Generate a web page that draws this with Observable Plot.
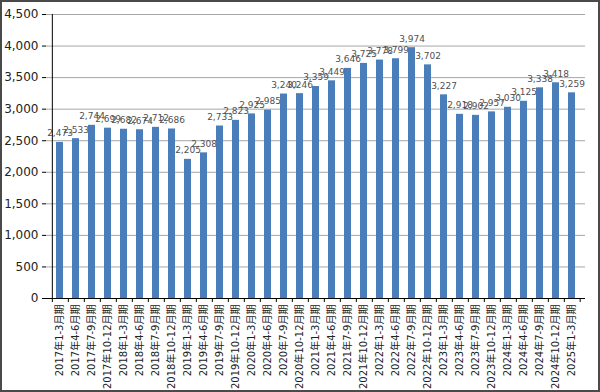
<!DOCTYPE html>
<html><head><meta charset="utf-8">
<script src="https://cdn.jsdelivr.net/npm/d3@7"></script>
<script src="https://cdn.jsdelivr.net/npm/@observablehq/plot@0.6"></script>
<style>
html,body{margin:0;padding:0;background:#fff;}
#wrap{position:relative;width:600px;height:392px;overflow:hidden;}
#frame{position:absolute;left:0;top:0;width:600px;height:392px;box-sizing:border-box;border:2px solid #4a4a4a;pointer-events:none;}
svg{font-family:"DejaVu Sans","Noto Sans CJK JP",sans-serif;}
</style></head>
<body><div id="wrap"><div id="chart"></div><div id="frame"></div></div>
<script>
const years = ["2017","2017","2017","2017","2018","2018","2018","2018","2019","2019","2019","2019","2020","2020","2020","2020","2021","2021","2021","2021","2022","2022","2022","2022","2023","2023","2023","2023","2024","2024","2024","2024","2025"];
const quarters = ["1-3","4-6","7-9","10-12","1-3","4-6","7-9","10-12","1-3","4-6","7-9","10-12","1-3","4-6","7-9","10-12","1-3","4-6","7-9","10-12","1-3","4-6","7-9","10-12","1-3","4-6","7-9","10-12","1-3","4-6","7-9","10-12","1-3"];
const values = [2473,2533,2744,2699,2682,2674,2712,2686,2205,2308,2733,2823,2925,2985,3240,3246,3359,3449,3646,3725,3778,3799,3974,3702,3227,2918,2902,2957,3030,3125,3338,3418,3259];
const yTicks = [0,500,1000,1500,2000,2500,3000,3500,4000,4500];

const categories = years.map((y,i)=> y + "年" + quarters[i] + "月期");
const data = categories.map((c,i)=>({cat:c, v:values[i]}));

const W = 600, H = 392, mL = 46, mR = 15, mT = 14, mB = 94;
const step = (W - mL - mR) / categories.length;
const tickLenData = 4 * 4500 / (H - mT - mB);

const chart = Plot.plot({
  width: W, height: H,
  marginLeft: mL, marginRight: mR, marginTop: mT, marginBottom: mB,
  style: {fontFamily: '"DejaVu Sans","Noto Sans CJK JP",sans-serif', background: "transparent"},
  x: {domain: categories, padding: 0.56, label: null},
  y: {domain: [0, 4500], label: null},
  marks: [
    Plot.gridY(yTicks.filter(d=>d>0), {stroke: "#a6a6a6", strokeOpacity: 1, strokeWidth: 1}),
    Plot.barY(data, {x: "cat", y: "v", fill: "#4a7ebb"}),
    Plot.text(data, {x: "cat", y: "v", text: d => d3.format(",")(d.v), dy: -9, fontSize: 9, fill: "#505050"}),
    Plot.ruleY([0], {stroke: "#000", strokeWidth: 1}),
    Plot.ruleX([categories[0]], {y1: 0, y2: 4500, dx: -step/2 + 0.5, stroke: "#000"}),
    Plot.ruleX(categories, {y1: 0, y2: -tickLenData, dx: -step/2 + 0.5, stroke: "#000", clip: false}),
    Plot.ruleX([categories[categories.length-1]], {y1: 0, y2: -tickLenData, dx: step/2, stroke: "#000", clip: false}),
    Plot.axisY({ticks: yTicks, tickFormat: d3.format(","), tickSize: 4, fontSize: 12, fill: "#222", label: null, tickPadding: 4}),
    Plot.axisX({tickRotate: -90, tickSize: 0, fontSize: 10, fill: "#222", label: null, tickPadding: 6})
  ]
});
document.getElementById("chart").appendChild(chart);
</script></body></html>
